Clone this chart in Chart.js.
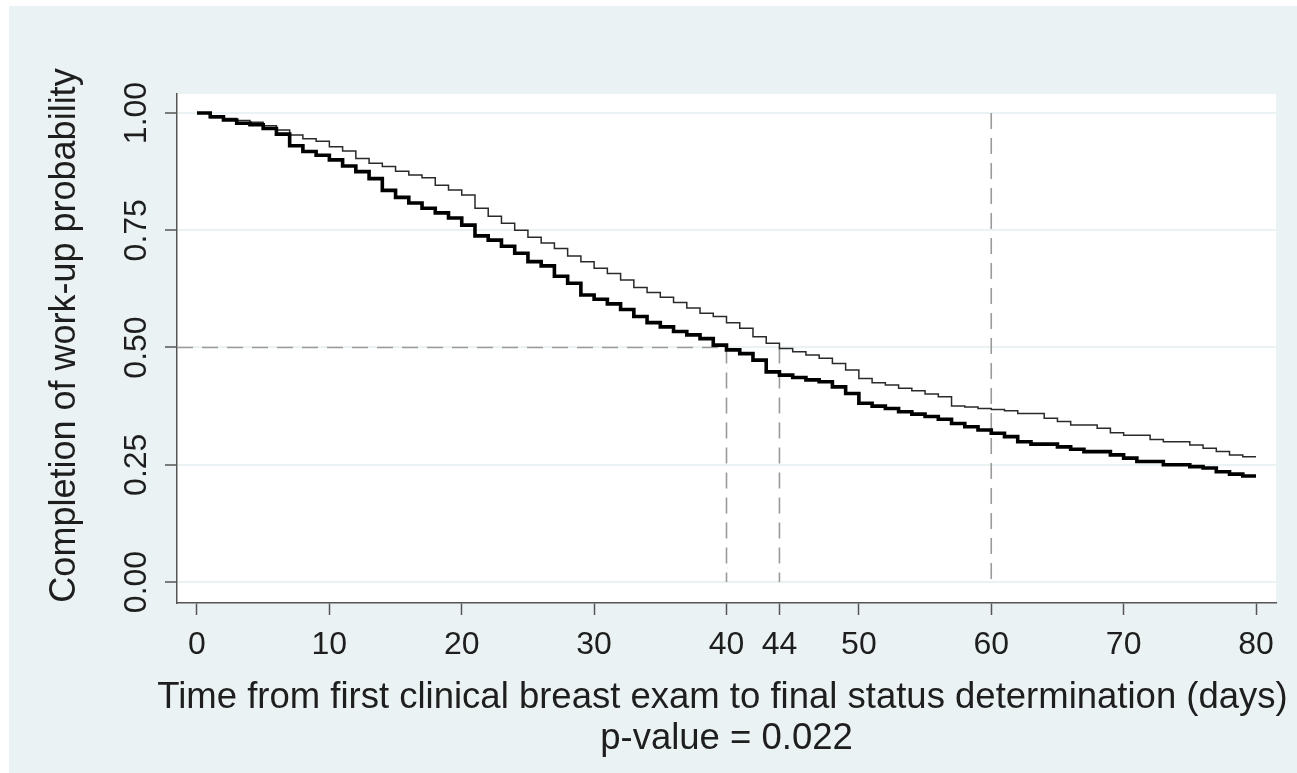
<!DOCTYPE html>
<html><head><meta charset="utf-8">
<script src="https://cdn.jsdelivr.net/npm/chart.js@4.4.1/dist/chart.umd.min.js"></script>
<style>
html,body{margin:0;padding:0;background:#fff;}
#wrap{position:absolute;left:9px;top:6px;width:1288px;height:767px;background:#EAF2F3;}
canvas{display:block;}
</style></head><body>
<div id="wrap"><canvas id="c" width="1288" height="767"></canvas></div>
<script>
// ---- data ----
const days = [0,1,2,3,4,5,6,7,8,9,10,11,12,13,14,15,16,17,18,19,20,21,22,23,24,25,26,27,28,29,30,31,32,33,34,35,36,37,38,39,40,41,42,43,44,45,46,47,48,49,50,51,52,53,54,55,56,57,58,59,60,61,62,63,64,65,66,67,68,69,70,71,72,73,74,75,76,77,78,79,80];
const survivalThin = [1.000,0.990,0.988,0.984,0.980,0.973,0.964,0.953,0.945,0.940,0.928,0.919,0.903,0.893,0.886,0.876,0.868,0.862,0.846,0.836,0.825,0.797,0.780,0.765,0.750,0.735,0.723,0.711,0.695,0.683,0.669,0.658,0.644,0.628,0.617,0.607,0.596,0.584,0.573,0.566,0.553,0.541,0.523,0.509,0.498,0.491,0.484,0.477,0.466,0.452,0.434,0.425,0.420,0.413,0.408,0.401,0.395,0.375,0.373,0.370,0.368,0.365,0.359,0.359,0.349,0.342,0.335,0.335,0.328,0.318,0.313,0.313,0.304,0.299,0.299,0.292,0.285,0.278,0.271,0.267,0.267];
const survivalThick = [1.000,0.992,0.985,0.978,0.975,0.967,0.955,0.930,0.918,0.910,0.900,0.887,0.875,0.860,0.835,0.820,0.808,0.797,0.787,0.776,0.761,0.738,0.729,0.716,0.701,0.683,0.674,0.652,0.637,0.612,0.603,0.593,0.581,0.566,0.553,0.544,0.534,0.527,0.519,0.505,0.495,0.487,0.473,0.448,0.441,0.436,0.431,0.427,0.416,0.402,0.381,0.375,0.370,0.363,0.358,0.353,0.347,0.338,0.331,0.324,0.317,0.310,0.299,0.294,0.294,0.288,0.283,0.278,0.278,0.271,0.264,0.257,0.257,0.250,0.250,0.246,0.243,0.235,0.230,0.226,0.226];
const xTickValues = [0,10,20,30,40,44,50,60,70,80];
const yTickValues = [0,0.25,0.5,0.75,1];
const yTickLabels = ['0.00','0.25','0.50','0.75','1.00'];
const xRange = [-1.51, 81.51];
const yRange = [-0.0448, 1.0405];
const medianLevel = 0.5;
const medianDayThick = 40;
const medianDayThin = 44;
const refDay = 60;
const xTitle = 'Time from first clinical breast exam to final status determination (days)';
const noteText = 'p-value = 0.022';
const yTitle = 'Completion of work-up probability';

// ---- build ----
const pts = (ys) => days.map((d, i) => ({x: d, y: ys[i]}));
const FONT = '"Liberation Sans", Arial, Helvetica, sans-serif';
const TEXT = '#1e1e1e';
const refStyle = {borderColor:'#9a9a9a', borderWidth:1.6, borderDash:[16,9], pointRadius:0, fill:false, stepped:false, tension:0};

const plotBg = {
  id:'plotBg',
  beforeDraw(chart){
    const {ctx, chartArea:a} = chart;
    ctx.save(); ctx.fillStyle = '#ffffff';
    ctx.fillRect(a.left, a.top, a.right - a.left, a.bottom - a.top);
    ctx.restore();
  }
};
const axisText = {
  id:'axisText',
  afterDraw(chart){
    const s = chart.scales.y, ctx = chart.ctx, a = chart.chartArea;
    ctx.save();
    ctx.fillStyle = TEXT; ctx.textAlign = 'center'; ctx.textBaseline = 'middle';
    // rotated y tick labels
    ctx.font = '32px ' + FONT;
    yTickValues.forEach((v, i) => {
      const py = s.getPixelForValue(v);
      ctx.save(); ctx.translate(s.right - 40, py); ctx.rotate(-Math.PI/2);
      ctx.fillText(yTickLabels[i], 0, 0); ctx.restore();
    });
    // x title and note
    const cx = (a.left + a.right) / 2;
    ctx.font = '36.5px ' + FONT;
    ctx.fillText(xTitle, cx - 4, 692);
    ctx.fillText(noteText, cx, 733);
    // y title
    ctx.font = '36px ' + FONT;
    ctx.translate(56, (a.top + a.bottom) / 2 - 13); ctx.rotate(-Math.PI/2);
    ctx.fillText(yTitle, 0, 0);
    ctx.restore();
  }
};

new Chart(document.getElementById('c'), {
  type:'line',
  data:{
    datasets:[
      {label:'thick', data:pts(survivalThick), borderColor:'#000', borderWidth:3.6, pointRadius:0, stepped:'before', fill:false},
      {label:'thin', data:pts(survivalThin), borderColor:'#2a2a2a', borderWidth:1.5, pointRadius:0, stepped:'before', fill:false},
      Object.assign({label:'median', data:[{x:xRange[0], y:medianLevel},{x:medianDayThick, y:medianLevel}]}, refStyle),
      Object.assign({label:'m40', data:[{x:medianDayThick, y:medianLevel},{x:medianDayThick, y:0}]}, refStyle),
      Object.assign({label:'m44', data:[{x:medianDayThin, y:medianLevel},{x:medianDayThin, y:0}]}, refStyle),
      Object.assign({label:'d60', data:[{x:refDay, y:1},{x:refDay, y:0}]}, refStyle)
    ]
  },
  options:{
    responsive:false, animation:false,
    layout:{padding:{top:88, right:21, left:0, bottom:0}},
    plugins:{legend:{display:false}, tooltip:{enabled:false}},
    scales:{
      x:{
        type:'linear', min:xRange[0], max:xRange[1],
        afterBuildTicks(s){ s.ticks = xTickValues.map(v => ({value:v})); },
        afterFit(s){ s.height = 170; },
        ticks:{autoSkip:false, maxRotation:0, minRotation:0, padding:11, color:TEXT, font:{family:FONT, size:32},
          callback:(v) => String(v)},
        grid:{drawOnChartArea:false, drawTicks:true, tickLength:12, tickColor:'#555', tickWidth:1.5},
        border:{display:true, color:'#555', width:1.5},
        title:{display:false}
      },
      y:{
        type:'linear', min:yRange[0], max:yRange[1],
        afterBuildTicks(s){ s.ticks = yTickValues.map(v => ({value:v})); },
        afterFit(s){ s.width = 168; },
        ticks:{display:false},
        grid:{drawOnChartArea:true, color:'#EAF2F3', lineWidth:2, drawTicks:true, tickLength:12, tickColor:'#555', tickWidth:1.5},
        border:{display:true, color:'#555', width:1.5},
        title:{display:false}
      }
    }
  },
  plugins:[plotBg, axisText]
});
</script>
</body></html>
